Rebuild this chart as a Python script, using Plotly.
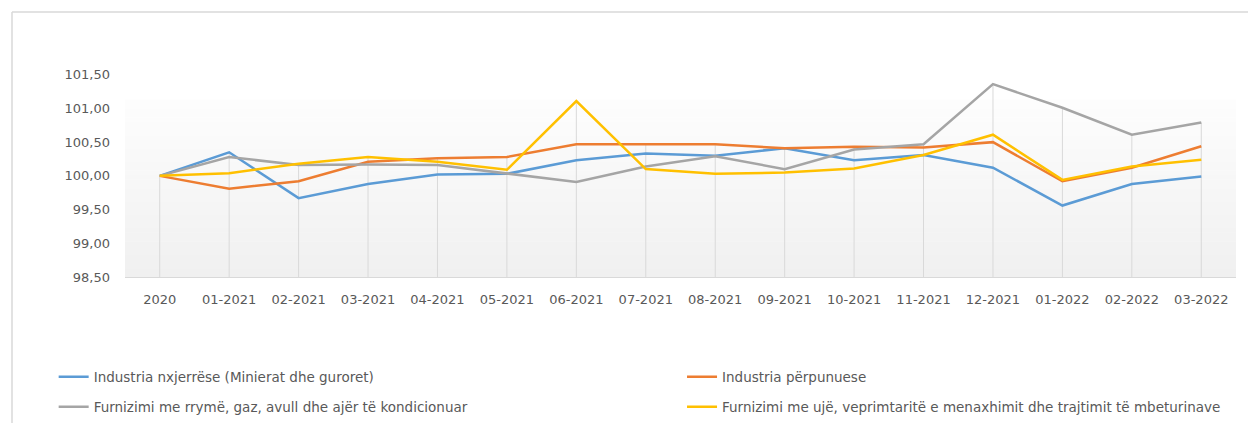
import plotly.graph_objects as go

categories = ["2020", "01-2021", "02-2021", "03-2021", "04-2021", "05-2021", "06-2021",
              "07-2021", "08-2021", "09-2021", "10-2021", "11-2021", "12-2021",
              "01-2022", "02-2022", "03-2022"]

nxjerrese = [100.00, 100.35, 99.67, 99.88, 100.02, 100.03, 100.23, 100.33, 100.30,
             100.41, 100.23, 100.31, 100.12, 99.56, 99.88, 99.99]
perpunuese = [100.00, 99.81, 99.92, 100.21, 100.26, 100.28, 100.47, 100.47, 100.47,
              100.41, 100.43, 100.42, 100.50, 99.92, 100.12, 100.44]
energji = [100.00, 100.28, 100.16, 100.17, 100.16, 100.04, 99.91, 100.14, 100.29,
           100.10, 100.39, 100.47, 101.36, 101.01, 100.61, 100.79]
uje = [100.00, 100.04, 100.18, 100.28, 100.21, 100.09, 101.11, 100.10, 100.03,
       100.05, 100.11, 100.31, 100.61, 99.94, 100.14, 100.24]

names = ["Industria nxjerrëse (Minierat dhe guroret)",
         "Industria përpunuese",
         "Furnizimi me rrymë, gaz, avull dhe ajër të kondicionuar",
         "Furnizimi me ujë, veprimtaritë e menaxhimit dhe trajtimit të mbeturinave"]
series = [nxjerrese, perpunuese, energji, uje]
colors = ["#5B9BD5", "#ED7D31", "#A5A5A5", "#FFC000"]
legend_ids = ["legend", "legend2", "legend3", "legend4"]

y_min, y_max = 98.5, 102.0
y_ticks = [98.5, 99.0, 99.5, 100.0, 100.5, 101.0, 101.5]

fig = go.Figure()

# drop lines from highest point of each category to the axis
dx, dy = [], []
for i, c in enumerate(categories):
    top = max(s[i] for s in series)
    dx += [c, c, None]
    dy += [top, y_min, None]
fig.add_trace(go.Scatter(x=dx, y=dy, mode="lines", line=dict(color="#D9D9D9", width=1),
                         showlegend=False, hoverinfo="skip"))

for name, s, col, lg in zip(names, series, colors, legend_ids):
    fig.add_trace(go.Scatter(x=categories, y=s, name=name, mode="lines",
                             line=dict(color=col, width=2.5), legend=lg))

# gradient background bands
n = 40
top_frac = 0.75
c0 = (0xF0, 0xF0, 0xF0)
c1 = (0xFD, 0xFD, 0xFD)
shapes = []
for k in range(n):
    t = k / (n - 1)
    col = tuple(round(c0[j] + (c1[j] - c0[j]) * t) for j in range(3))
    shapes.append(dict(type="rect", xref="x domain", yref="y domain",
                       x0=0, x1=1, y0=top_frac * k / n, y1=top_frac * (k + 1) / n + 0.002,
                       fillcolor="rgb(%d,%d,%d)" % col, line=dict(width=0), layer="below"))

font_family = "DejaVu Sans, sans-serif"
legend_font = dict(family=font_family, size=13.5, color="#595959")


def leg(x, y):
    return dict(orientation="h", xref="container", yref="container", x=x, y=y,
                xanchor="left", yanchor="middle", font=legend_font,
                bgcolor="rgba(0,0,0,0)")


fig.update_layout(
    width=1248, height=423,
    margin=dict(l=125, r=12, t=41, b=146),
    paper_bgcolor="white", plot_bgcolor="white",
    separators=", ",
    font=dict(family=font_family, size=13, color="#595959"),
    shapes=shapes,
    xaxis=dict(type="category", showgrid=False, showline=True, linecolor="#D9D9D9",
               linewidth=1, ticks="", ticklabelstandoff=10, range=[-0.5, 15.5],
               tickfont=dict(size=13, color="#595959")),
    yaxis=dict(range=[y_min, y_max], tickvals=y_ticks, tickformat=".2f", showgrid=False,
               zeroline=False, showline=False, ticks="", ticklabelstandoff=14,
               tickfont=dict(size=13, color="#595959")),
    legend=leg(0.043, 1 - 377 / 423),
    legend2=leg(0.5465, 1 - 377 / 423),
    legend3=leg(0.043, 1 - 407 / 423),
    legend4=leg(0.5465, 1 - 407 / 423),
)

# outer chart frame (top & left border as in reference)
ytop = (423 - 12 - 146) / 236
xleft = -113 / 1111
fig.add_shape(type="line", xref="paper", yref="paper", x0=xleft, x1=1.02,
              y0=ytop, y1=ytop, line=dict(color="#D9D9D9", width=1.5))
fig.add_shape(type="line", xref="paper", yref="paper", x0=xleft, x1=xleft,
              y0=ytop, y1=-1, line=dict(color="#D9D9D9", width=1.5))

fig.write_html("out.html")
